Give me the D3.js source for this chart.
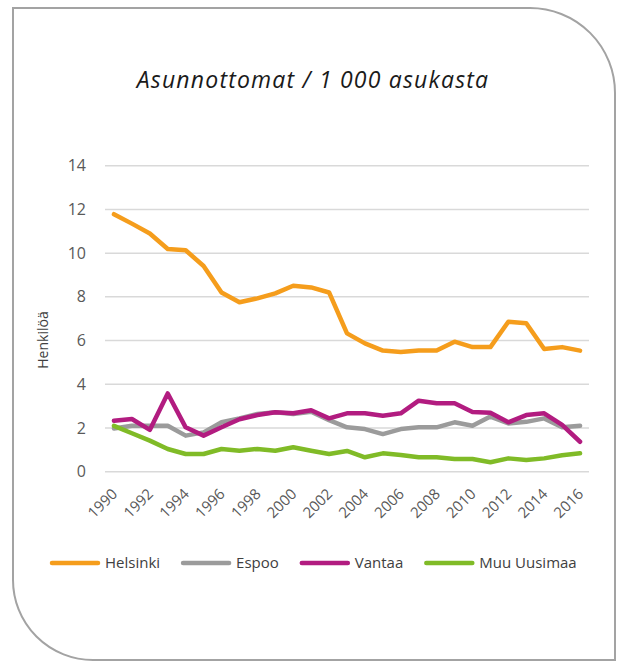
<!DOCTYPE html>
<html>
<head>
<meta charset="utf-8">
<script src="https://cdn.jsdelivr.net/npm/d3@7"></script>
<style>
  body { margin: 0; background: #fff; }
  text { font-family: "Open Sans", "Noto Sans", sans-serif; }
</style>
</head>
<body>
<svg id="chart"></svg>
<script>
const width = 617;
const height = 662;

const years = d3.range(1990, 2017);
const tickYears = years.filter(y => y % 2 === 0);
const yTicks = [0, 2, 4, 6, 8, 10, 12, 14];

const helsinki = [11.78, 11.35, 10.9, 10.19, 10.13, 9.41, 8.2, 7.75, 7.93, 8.16, 8.51, 8.43, 8.2,
    6.33, 5.87, 5.54, 5.48, 5.54, 5.54, 5.95, 5.7, 5.7, 6.86, 6.79, 5.61, 5.7, 5.54];
const espoo = [1.98, 2.1, 2.1, 2.1, 1.65, 1.8, 2.26, 2.44, 2.64, 2.72, 2.64, 2.74, 2.36,
    2.03, 1.95, 1.72, 1.95, 2.03, 2.03, 2.26, 2.1, 2.52, 2.21, 2.28, 2.44, 2.03, 2.1];
const vantaa = [2.33, 2.41, 1.91, 3.58, 2.03, 1.65, 2.03, 2.4, 2.59, 2.72, 2.67, 2.81, 2.44,
    2.67, 2.67, 2.56, 2.67, 3.25, 3.13, 3.13, 2.73, 2.7, 2.26, 2.59, 2.67, 2.14, 1.37];
const muuUusimaa = [2.1, 1.76, 1.42, 1.04, 0.81, 0.81, 1.04, 0.96, 1.04, 0.96, 1.12, 0.96, 0.81,
    0.95, 0.66, 0.84, 0.76, 0.66, 0.66, 0.58, 0.58, 0.43, 0.61, 0.54, 0.61, 0.75, 0.84];

const seriesNames = ["Helsinki", "Espoo", "Vantaa", "Muu Uusimaa"];
const seriesColors = ["#f59d1c", "#9b9b9b", "#b21c80", "#80bb27"];

const series = [helsinki, espoo, vantaa, muuUusimaa].map((values, i) => ({
    name: seriesNames[i],
    color: seriesColors[i],
    values
}));

const svg = d3.select("#chart")
    .attr("width", width)
    .attr("height", height);

// frame with two rounded corners
svg.append("path")
    .attr("d", "M13,8 H530 A85,85 0 0 1 615,93 V660 H93 A80,80 0 0 1 13,580 Z")
    .attr("fill", "none")
    .attr("stroke", "#a3a3a3")
    .attr("stroke-width", 2);

svg.append("text")
    .attr("x", 313)
    .attr("y", 88)
    .attr("text-anchor", "middle")
    .attr("font-size", 23)
    .attr("font-style", "italic")
    .attr("letter-spacing", 1.2)
    .attr("fill", "#1a1a1a")
    .text("Asunnottomat / 1 000 asukasta");

const x = d3.scalePoint()
    .domain(years)
    .range([105, 589])
    .padding(0.5);

const y = d3.scaleLinear()
    .domain([0, 14])
    .range([471.7, 165.7]);

// gridlines
svg.append("g")
    .selectAll("line")
    .data(yTicks)
    .join("line")
    .attr("x1", 105)
    .attr("x2", 589)
    .attr("y1", d => y(d))
    .attr("y2", d => y(d))
    .attr("stroke", "#d9d9d9")
    .attr("stroke-width", 1.5);

const yAxis = svg.append("g")
    .attr("transform", "translate(92,0)")
    .call(d3.axisLeft(y).tickValues(yTicks).tickSize(0).tickPadding(6));
yAxis.select(".domain").remove();
yAxis.selectAll("text")
    .attr("font-size", 16)
    .attr("font-family", "'Open Sans', sans-serif")
    .attr("fill", "#595959");

const xAxis = svg.append("g")
    .attr("transform", "translate(0,480)")
    .call(d3.axisBottom(x).tickValues(tickYears).tickSize(0).tickFormat(d3.format("d")));
xAxis.select(".domain").remove();
xAxis.selectAll("text")
    .attr("font-size", 15)
    .attr("font-family", "'Open Sans', sans-serif")
    .attr("fill", "#595959")
    .attr("text-anchor", "end")
    .attr("dy", "0.35em")
    .attr("transform", "translate(-2,9) rotate(-45)");

svg.append("text")
    .attr("transform", "translate(48,340) rotate(-90)")
    .attr("text-anchor", "middle")
    .attr("font-size", 14)
    .attr("fill", "#404040")
    .text("Henkilöä");

const line = d3.line()
    .x((d, i) => x(years[i]))
    .y(d => y(d))
    .curve(d3.curveLinear);

svg.append("g")
    .selectAll("path")
    .data(series)
    .join("path")
    .attr("d", d => line(d.values))
    .attr("fill", "none")
    .attr("stroke", d => d.color)
    .attr("stroke-width", 4.5)
    .attr("stroke-linejoin", "round")
    .attr("stroke-linecap", "round");

// legend laid out from measured text widths
const legend = svg.append("g").attr("transform", "translate(0,563)");
let lx = 52;
series.forEach(s => {
    const g = legend.append("g").attr("transform", `translate(${lx},0)`);
    g.append("line")
        .attr("x1", 0)
        .attr("x2", 46)
        .attr("stroke", s.color)
        .attr("stroke-width", 4.5)
        .attr("stroke-linecap", "round");
    const t = g.append("text")
        .attr("x", 53)
        .attr("dy", "0.35em")
        .attr("font-size", 15)
        .attr("fill", "#404040")
        .text(s.name);
    lx += 53 + t.node().getComputedTextLength() + 23;
});
</script>
</body>
</html>
